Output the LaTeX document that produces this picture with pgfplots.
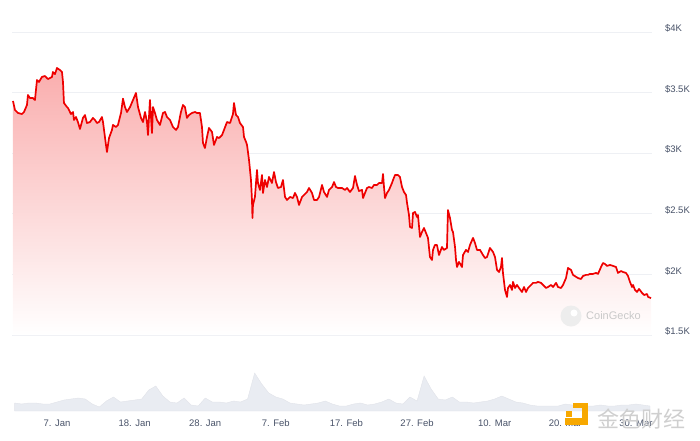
\documentclass[border=0pt]{standalone}
\usepackage{pgfplots}
\pgfplotsset{compat=1.18}
\usepackage{pgfplotstable}
\usepackage{fontspec}
\setmainfont{Liberation Sans}
\newfontfamily\cjk{Noto Sans CJK SC}
\definecolor{lab}{RGB}{72,82,104}
\definecolor{gridc}{RGB}{238,240,244}
\definecolor{vol}{RGB}{233,236,242}
\definecolor{cgred}{RGB}{238,0,0}
\definecolor{jsorange}{RGB}{247,168,0}

\pgfplotstableread{
d p
-0.23 3431
0.05 3357
0.48 3332
1.04 3323
1.33 3340
1.75 3398
1.89 3480
2.18 3455
2.60 3455
2.88 3439
3.17 3604
3.45 3588
3.87 3629
4.30 3637
4.72 3612
5.29 3629
5.43 3670
5.72 3653
6.00 3703
6.43 3686
6.71 3670
6.85 3588
6.99 3414
7.42 3381
7.56 3373
7.98 3323
8.27 3340
8.41 3274
8.69 3299
8.97 3257
9.26 3200
9.68 3291
9.97 3315
10.25 3249
10.67 3257
11.10 3291
11.38 3274
11.67 3249
11.95 3257
12.37 3299
12.52 3257
12.94 3068
13.08 3010
13.37 3125
13.79 3192
13.93 3233
14.36 3216
14.64 3233
15.07 3332
15.35 3450
15.63 3381
15.92 3340
16.35 3381
16.77 3439
17.19 3497
17.48 3381
17.90 3291
18.18 3257
18.47 3340
18.75 3257
18.89 3150
19.17 3439
19.46 3167
19.60 3381
19.88 3332
20.16 3274
20.59 3233
21.01 3332
21.30 3340
21.58 3299
22.01 3274
22.43 3216
22.86 3192
23.14 3216
23.56 3340
23.85 3398
24.13 3381
24.41 3291
24.70 3315
25.12 3332
25.55 3340
25.83 3332
26.25 3332
26.54 3216
26.68 3084
26.96 3043
27.25 3134
27.53 3208
27.96 3175
28.24 3068
28.67 3134
28.95 3125
29.38 3150
29.66 3192
30.08 3257
30.51 3249
30.93 3323
31.07 3414
31.36 3315
31.64 3299
31.92 3249
32.35 3216
32.49 3134
32.78 3093
32.92 3068
33.20 2944
33.48 2779
33.62 2614
33.69 2465
33.76 2573
34.04 2639
34.33 2861
34.47 2754
34.75 2697
35.04 2820
35.18 2672
35.46 2779
35.75 2721
36.03 2804
36.45 2754
36.74 2845
37.02 2762
37.30 2713
37.73 2721
38.01 2779
38.30 2639
38.58 2614
39.01 2639
39.43 2630
39.71 2672
40.00 2639
40.28 2573
40.71 2639
40.99 2655
41.42 2680
41.70 2713
42.12 2672
42.41 2614
42.83 2614
43.12 2639
43.54 2738
43.82 2680
44.25 2639
44.53 2697
44.96 2721
45.24 2762
45.52 2721
45.81 2713
46.37 2713
46.80 2697
47.08 2713
47.50 2680
47.93 2713
48.21 2812
48.50 2738
48.78 2688
49.21 2697
49.35 2630
49.63 2672
49.91 2713
50.20 2721
50.62 2713
50.90 2738
51.33 2738
51.61 2754
52.04 2754
52.18 2829
52.32 2721
52.46 2630
52.75 2672
53.03 2697
53.45 2754
53.60 2779
53.88 2820
54.30 2820
54.58 2804
54.87 2721
55.15 2680
55.44 2655
55.58 2590
55.86 2490
56.00 2391
56.29 2383
56.43 2507
56.71 2515
56.99 2474
57.13 2490
57.42 2309
57.70 2350
57.98 2383
58.27 2342
58.55 2301
58.83 2144
59.12 2119
59.26 2202
59.54 2243
59.82 2243
60.11 2160
60.53 2226
60.81 2202
61.24 2218
61.38 2531
61.67 2465
61.95 2367
62.09 2350
62.38 2226
62.52 2119
62.66 2061
62.94 2103
63.37 2061
63.51 2160
63.93 2202
64.22 2185
64.50 2243
64.93 2301
65.21 2259
65.49 2202
65.92 2202
66.34 2160
66.63 2135
66.91 2144
67.33 2218
67.76 2185
68.04 2144
68.33 2037
68.61 2020
68.89 2061
69.03 2135
69.17 2012
69.46 1872
69.74 1814
69.88 1888
70.17 1913
70.45 1872
70.59 1938
70.88 1888
71.16 1913
71.44 1888
71.87 1855
72.15 1896
72.44 1855
72.72 1888
73.15 1913
73.43 1930
73.85 1930
74.14 1938
74.56 1930
74.85 1913
75.27 1888
75.55 1896
75.98 1913
76.26 1896
76.69 1930
76.97 1896
77.39 1888
77.68 1913
78.10 1970
78.38 2053
78.81 2037
79.09 1996
79.52 1980
79.80 1970
80.22 1962
80.51 1987
80.93 1996
81.22 1996
81.50 2004
81.92 2004
82.35 2012
82.63 2004
83.06 2061
83.34 2094
83.62 2086
83.91 2070
84.33 2078
84.76 2070
85.18 2061
85.46 2012
85.89 2028
86.17 2020
86.60 2012
86.88 1987
87.16 1938
87.45 1896
87.59 1913
87.87 1872
88.16 1855
88.44 1880
88.87 1847
89.15 1830
89.58 1838
89.72 1814
90.14 1805
}\pricedata

\pgfplotstableread{
d v
0 16
1 14
2 16
3 16
4 14
5 14
6 18
7 22
8 24
9 26
10 24
11 14
12 8
13 20
14 28
15 18
16 20
17 22
18 24
19 42
20 50
21 30
22 18
23 16
24 26
25 12
26 10
27 26
28 18
29 18
30 16
31 20
32 18
33 24
34 76
35 54
36 36
37 28
38 24
39 16
40 14
41 12
42 14
43 16
44 20
45 14
46 10
47 10
48 14
49 16
50 12
51 14
52 18
53 24
54 16
55 14
56 28
57 20
58 70
59 44
60 24
61 22
62 28
63 18
64 18
65 16
66 18
67 20
68 24
69 30
70 24
71 18
72 16
73 12
74 10
75 10
76 10
77 10
78 14
79 12
80 10
81 10
82 10
83 12
84 10
85 10
86 12
87 12
88 14
89 12
90 10
}\voldata

\begin{document}
\begin{tikzpicture}[x=1pt,y=1pt]
\path[use as bounding box] (0,0) rectangle (700,440);

% volume pane
\begin{axis}[
  at={(12pt,29pt)}, anchor=south west, scale only axis,
  width=640pt, height=60pt,
  xmin=-0.37, xmax=90.28, ymin=0, ymax=120,
  axis line style={draw=none},
  major tick length=0pt,
  ytick=\empty,
  xtick={6,17,27,37,47,57,68,78,88},
  xticklabels={7. Jan,18. Jan,28. Jan,7. Feb,17. Feb,27. Feb,10. Mar,20. Mar,30. Mar},
  xticklabel style={font=\fontsize{9.5}{11}\selectfont, text=lab, yshift=-5pt},
  clip=false,
]
\addplot[fill=vol, draw=vol!92!gray, line width=0.4pt] table[x=d,y=v] {\voldata} \closedcycle;
\end{axis}

% price pane
\begin{axis}[
  at={(12pt,105pt)}, anchor=south west, scale only axis,
  width=640pt, height=303pt,
  xmin=-0.37, xmax=90.28, ymin=1500, ymax=4000,
  axis line style={draw=none},
  major tick length=0pt,
  xtick=\empty,
  ytick={1500,2000,2500,3000,3500,4000},
  yticklabels={\$1.5K,\$2K,\$2.5K,\$3K,\$3.5K,\$4K},
  yticklabel pos=right,
  yticklabel style={font=\fontsize{9.5}{11}\selectfont, text=lab, anchor=west, xshift=9.5pt, yshift=3.5pt},
  ymajorgrids, grid style={gridc, line width=0.8pt},
  clip=false,
]
\addplot[draw=none, top color=cgred!32, bottom color=white] table[x=d,y=p] {\pricedata}
  -- (axis cs:90.14,1500) -- (axis cs:-0.23,1500) -- cycle;
\addplot[cgred, line width=1.7pt, line join=round] table[x=d,y=p] {\pricedata};
\end{axis}

% CoinGecko watermark
\fill[gray!14] (571,124) circle (10.5);
\fill[white] (574,127) circle (3.5);
\node[anchor=west, text=gray!42, inner sep=0pt, font=\fontsize{11}{12}\selectfont] at (586,124) {CoinGecko};

% 金色财经 watermark
\fill[jsorange] (582,15) rectangle (588,37);
\fill[jsorange] (565,15) rectangle (588,22);
\fill[jsorange] (573,32) rectangle (588,37);
\fill[jsorange] (566,23) rectangle (572,29);
\node[anchor=west, inner sep=0pt, text=gray!38, font=\cjk\fontsize{22}{22}\selectfont] at (597,21) {金色财经};
\end{tikzpicture}
\end{document}
